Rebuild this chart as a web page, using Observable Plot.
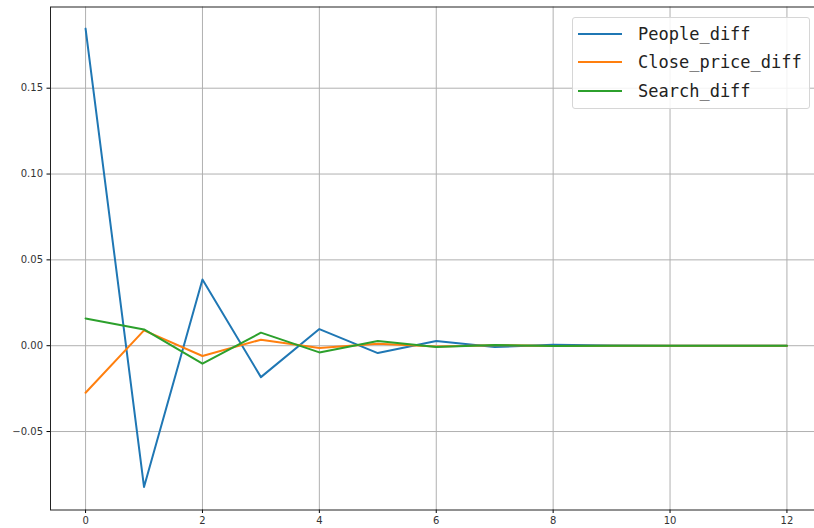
<!DOCTYPE html>
<html>
<head>
<meta charset="utf-8">
<script src="https://cdn.jsdelivr.net/npm/d3@7"></script>
<script src="https://cdn.jsdelivr.net/npm/@observablehq/plot@0.6"></script>
<style>
  html, body { margin: 0; padding: 0; background: #fff; overflow: hidden; width: 814px; height: 528px; }
  #wrap { position: relative; width: 814px; height: 528px; overflow: hidden; }
  #chart svg { max-width: none !important; width: 830px !important; height: 528px !important; display: block; }
  #legend { position: absolute; left: 572px; top: 17px; width: 238px; height: 92px;
    border: 1px solid #d6d6d6; border-radius: 3px; background: rgba(255,255,255,0.85); box-sizing: border-box; }
  .sw { position: absolute; left: 5px; width: 44px; height: 2px; }
  .lab { position: absolute; left: 65px; font-family: "DejaVu Sans Mono", monospace; font-size: 17px; color: #222; white-space: nowrap; line-height: 20px; }
</style>
</head>
<body>
<div id="wrap"><div id="chart"></div><div id="legend"></div></div>
<script>
const steps = [0, 1, 2, 3, 4, 5, 6, 7, 8, 9, 10, 11, 12];
const peopleDiff = [0.1847, -0.0823, 0.0386, -0.0183, 0.0097, -0.0043, 0.0027, -0.0008, 0.0005, 0.0001, 0.0, 0.0, 0.0];
const closePriceDiff = [-0.0274, 0.0089, -0.0060, 0.0035, -0.0014, 0.0012, -0.0005, 0.0003, -0.0001, 0.0, 0.0, 0.0, 0.0];
const searchDiff = [0.0159, 0.0095, -0.0105, 0.0076, -0.0039, 0.0027, -0.0008, 0.0004, -0.0001, 0.0, 0.0, 0.0, 0.0];
const seriesNames = ["People_diff", "Close_price_diff", "Search_diff"];
const seriesColors = ["#1f77b4", "#ff7f0e", "#2ca02c"];
const xTicks = [0, 2, 4, 6, 8, 10, 12];
const yTicks = [-0.05, 0.0, 0.05, 0.10, 0.15];

const seriesValues = [peopleDiff, closePriceDiff, searchDiff];
const data = [];
seriesNames.forEach((name, i) => {
  steps.forEach((s, j) => data.push({step: s, value: seriesValues[i][j], series: name}));
});

const chart = Plot.plot({
  width: 830,
  height: 528,
  marginLeft: 50,
  marginRight: 8.5,
  marginTop: 6.5,
  marginBottom: 18.5,
  style: {fontFamily: "DejaVu Sans", fontSize: "10px", color: "#333", background: "#fff"},
  x: {domain: [-0.6, 12.6], label: null},
  y: {domain: [-0.0957, 0.1973], label: null},
  color: {domain: seriesNames, range: seriesColors},
  marks: [
    Plot.ruleX(xTicks, {stroke: "#b0b0b0", strokeWidth: 1}),
    Plot.ruleY(yTicks, {stroke: "#b0b0b0", strokeWidth: 1}),
    Plot.line(data, {x: "step", y: "value", z: "series", stroke: "series", strokeWidth: 2}),
    Plot.axisX(xTicks, {tickSize: 3.5, tickPadding: 3, fontSize: 10, stroke: "#000", fill: "#333", tickFormat: d => String(d)}),
    Plot.axisY(yTicks, {tickSize: 3.5, tickPadding: 4, fontSize: 10, stroke: "#000", fill: "#333", tickFormat: d3.format(".2f")}),
    Plot.frame({stroke: "#222", strokeWidth: 1})
  ]
});
document.getElementById("chart").appendChild(chart);

const legend = document.getElementById("legend");
const rowTops = [15.7, 44.3, 72.7];
seriesNames.forEach((name, i) => {
  const sw = document.createElement("div");
  sw.className = "sw";
  sw.style.top = (rowTops[i] - 1) + "px";
  sw.style.background = seriesColors[i];
  legend.appendChild(sw);
  const lab = document.createElement("div");
  lab.className = "lab";
  lab.style.top = (rowTops[i] - 10) + "px";
  lab.textContent = name;
  legend.appendChild(lab);
});
</script>
</body>
</html>
